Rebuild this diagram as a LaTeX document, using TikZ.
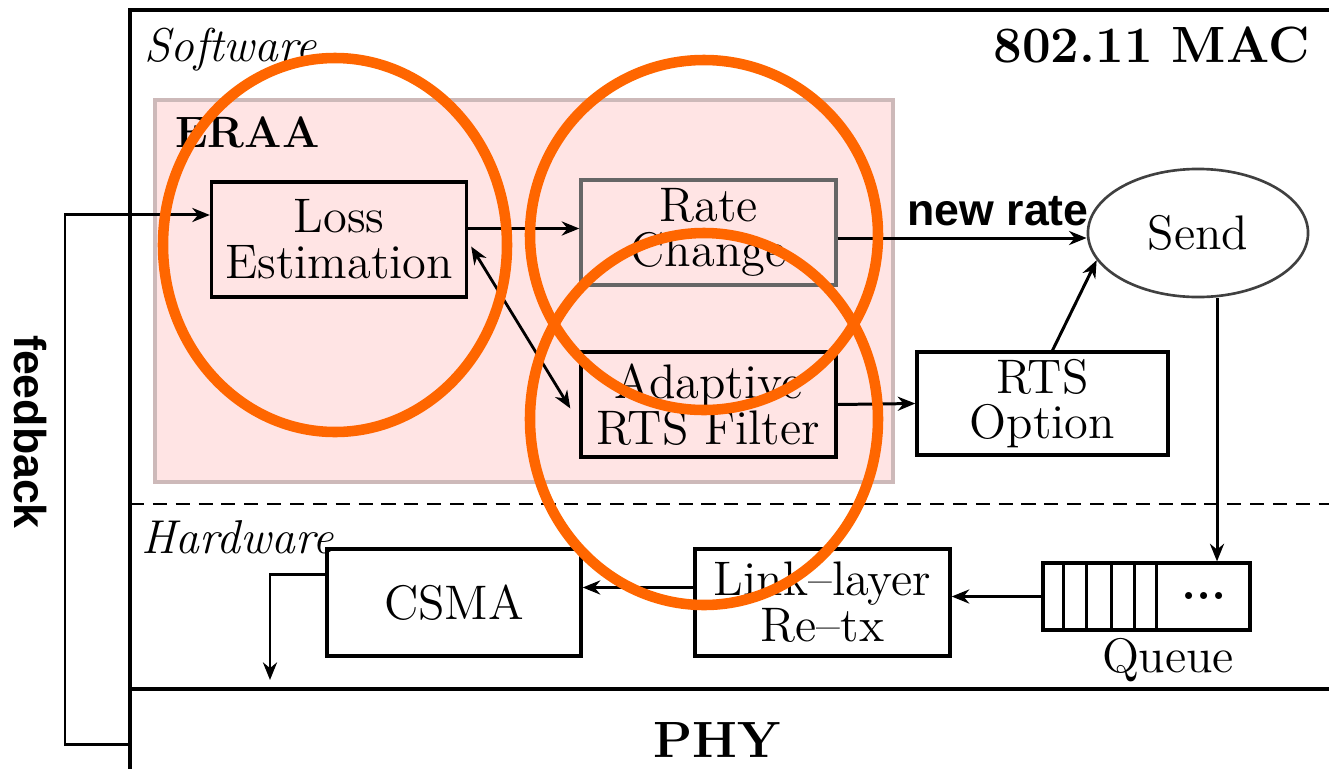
\documentclass[tikz,border=0pt]{standalone}
\usepackage{fontspec}
\newfontfamily\helv{Liberation Sans}
\usepackage{tikz}
\usetikzlibrary{calc,positioning,arrows.meta,shapes.geometric}
\definecolor{eraapink}{RGB}{255,228,228}
\definecolor{eraaedge}{RGB}{205,185,185}
\definecolor{hilite}{RGB}{255,102,0}
\newcommand{\boxfont}{\fontsize{13.8}{13}\selectfont}

\begin{document}
\begin{tikzpicture}[x=0.01cm, y=-0.01cm,
          blk/.style={draw, line width=0.9pt, minimum width=2.55cm, minimum height=1.07cm,
                      align=center, inner sep=0pt, font=\boxfont},
          arr/.style={line width=0.85pt, -{Stealth[length=5pt, width=4pt]}},
          frame/.style={line width=0.9pt},
          mark ring/.style={draw=hilite, line width=3pt},
        ]
        \useasboundingbox (0,0) rectangle (1329,769);
        % MAC frame
        \draw[frame] (130,769) -- (130,10) -- (1329,10);
        \draw[frame] (130,689) -- (1329,689);
        \draw[line width=0.8pt, dash pattern=on 4pt off 2.5pt] (130,504) -- (1329,504);
        \node[font=\fontsize{13.5}{16}\selectfont\itshape, anchor=west] (sw) at (132,50) {Software};
        \node[font=\fontsize{13.5}{16}\selectfont\itshape, anchor=west] (hw) at (129,537) {Hardware};
        \node[font=\fontsize{14.5}{17}\selectfont\bfseries, anchor=east] (mac) at (1322,45) {802.11 MAC};
        \node[font=\fontsize{14.5}{17}\selectfont\bfseries] (phy) at (717,740) {PHY};
        % ERAA block
        \draw[fill=eraapink, draw=eraaedge, line width=0.9pt] (155,100) rectangle (893,482);
        \node[font=\fontsize{12.5}{15}\selectfont\bfseries, anchor=west] (eraa) at (163,132) {ERAA};
        \node[blk, fill=eraapink, minimum height=1.15cm] (loss) at (339,239.5) {Loss\\Estimation};
        \node[blk, fill=eraapink, draw=black!60, minimum height=1.05cm] (rate) at (708.5,232.5) {Rate\\Change};
        \node[blk, fill=eraapink, minimum height=1.05cm] (adapt) at (708.5,404.5) {Adaptive\\RTS Filter};
        % right side
        \node[ellipse, draw=black!75, line width=0.75pt, minimum width=2.2cm, minimum height=1.28cm,
              inner sep=0pt, font=\boxfont] (send) at (1198,233) {Send};
        \node[blk, minimum width=2.51cm, minimum height=1.03cm] (rtsopt) at (1042.5,403.5) {RTS\\Option};
        \node[font=\fontsize{12.7}{15}\selectfont\helv\bfseries] (newrate) at (998,211) {new rate};
        % hardware row
        \node[blk, minimum width=2.54cm] (csma) at (454,602.5) {CSMA};
        \node[blk] (link) at (822.5,602.5) {Link--layer\\Re--tx};
        \node[draw, line width=0.9pt, minimum width=2.07cm, minimum height=0.67cm, inner sep=0pt] (queue) at (1146.5,596.5) {};
        \foreach \dx in {22,45,70,93,115}
          \draw[line width=0.9pt] ([xshift=\dx*0.01cm]queue.north west) -- ([xshift=\dx*0.01cm]queue.south west);
        \node[font=\boxfont\bfseries] (dots) at (1204,596) {...};
        \node[font=\boxfont] (qlabel) at (1168,660) {Queue};
        \node[font=\fontsize{12.7}{15}\selectfont\helv\bfseries, rotate=-90] (fb) at (30,432) {feedback};
        % connectors
        \coordinate (fbin) at (130,744);
        \coordinate (fbcorner) at (65,744);
        \coordinate (csmaout) at (270,680);
        \draw[arr] (fbin) -- (fbcorner) |- ([yshift=0.245cm]loss.west);
        \draw[arr] ([yshift=0.11cm]loss.east) -- ([yshift=0.11cm]loss.east -| rate.west);
        \draw[line width=0.8pt, {Stealth[length=5pt, width=4pt]}-{Stealth[length=5pt, width=4pt]}]
          ([xshift=0.03cm, yshift=-0.07cm]loss.east) -- ([xshift=-0.09cm, yshift=-0.04cm]adapt.west);
        \draw[arr] ([yshift=-0.055cm]rate.east) -- ([yshift=-0.055cm]rate.east -| send.west);
        \draw[arr] (adapt.east) -- (rtsopt.west);
        \draw[arr] ([xshift=0.1cm]rtsopt.north) -- (send.195);
        \draw[arr] ([xshift=0.19cm]send.south) -- ([xshift=0.19cm]send.south |- queue.north);
        \draw[arr] (queue.west) -- (queue.west -| link.east);
        \draw[arr] ([yshift=0.15cm]link.west) -- ([yshift=0.15cm]link.west -| csma.east);
        \draw[arr] ([yshift=0.275cm]csma.west) -| (csmaout);
        % highlight rings
        \draw[mark ring] (335,245) ellipse [x radius=172, y radius=187];
        \draw[mark ring] (704,235) ellipse [x radius=174, y radius=175];
        \draw[mark ring] (704,419) ellipse [x radius=174, y radius=186];
      \end{tikzpicture}
\end{document}
